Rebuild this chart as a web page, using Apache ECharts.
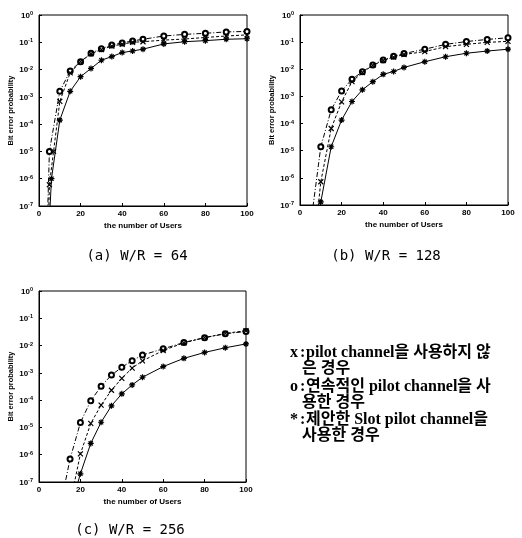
<!DOCTYPE html>
<html>
<head>
<meta charset="utf-8">
<script src="https://cdn.jsdelivr.net/npm/echarts@6/dist/echarts.min.js"></script>
<style>html,body{margin:0;padding:0;background:#fff;}#c{width:522px;height:538px;}</style>
</head>
<body>
<div id="c"></div>
<script>
// ---- data (users, bit error probability) ----
const xTicks = [0, 20, 40, 60, 80, 100];
const captions = ['(a) W/R = 64', '(b) W/R = 128', '(c) W/R = 256'];
const legendMarks = ['x', 'o', '*'];
const legendLines = [
  ['pilot channel을 사용하지 않', '은 경우'],
  ['연속적인 pilot channel을 사', '용한 경우'],
  ['제안한 Slot pilot channel을', '사용한 경우']
];

// (a) W/R = 64
const usersA_o = [4, 5, 10, 15, 20, 25, 30, 35, 40, 45, 50, 60, 70, 80, 90, 100];
const berA_o   = [2.5e-8, 1.0e-5, 1.6e-3, 8.9e-3, 1.95e-2, 4.0e-2, 5.8e-2, 7.9e-2, 9.5e-2, 0.112, 0.129, 0.17, 0.195, 0.214, 0.24, 0.25];
const usersA_x = [4.5, 5, 7, 10, 15, 20, 25, 30, 35, 40, 45, 50, 60, 70, 80, 90, 100];
const berA_x   = [2e-8, 6e-7, 1e-5, 6.8e-4, 7.6e-3, 1.95e-2, 3.8e-2, 5.4e-2, 7.2e-2, 8.5e-2, 0.1, 0.105, 0.12, 0.132, 0.15, 0.17, 0.186];
const usersA_s = [5, 6, 10, 15, 20, 25, 30, 35, 40, 45, 50, 60, 70, 80, 90, 100];
const berA_s   = [3e-8, 1e-6, 1.4e-4, 1.6e-3, 5.5e-3, 1.1e-2, 2.2e-2, 3.0e-2, 4.2e-2, 4.8e-2, 5.6e-2, 8.7e-2, 0.105, 0.115, 0.129, 0.135];

// (b) W/R = 128
const usersB_o = [5, 10, 15, 20, 25, 30, 35, 40, 45, 50, 60, 70, 80, 90, 100];
const berB_o   = [1.6e-8, 1.4e-5, 3.2e-4, 1.6e-3, 4.3e-3, 8.1e-3, 1.45e-2, 2.2e-2, 3.0e-2, 3.8e-2, 5.5e-2, 8.3e-2, 0.105, 0.126, 0.145];
const usersB_x = [8, 10, 15, 20, 25, 30, 35, 40, 45, 50, 60, 70, 80, 90, 100];
const berB_x   = [2.5e-8, 7.2e-7, 6.6e-5, 6.3e-4, 3.5e-3, 7.6e-3, 1.4e-2, 2.1e-2, 2.8e-2, 3.5e-2, 4.5e-2, 6.8e-2, 8.3e-2, 9.8e-2, 0.107];
const usersB_s = [9, 10, 15, 20, 25, 30, 35, 40, 45, 50, 60, 70, 80, 90, 100];
const berB_s   = [3.2e-8, 1.3e-7, 1.4e-5, 1.35e-4, 6.5e-4, 1.75e-3, 3.5e-3, 6.5e-3, 8.3e-3, 1.17e-2, 1.9e-2, 2.9e-2, 3.9e-2, 4.7e-2, 5.5e-2];

// (c) W/R = 256
const usersC_o = [10, 15, 20, 25, 30, 35, 40, 45, 50, 60, 70, 80, 90, 100];
const berC_o   = [1e-8, 6.9e-7, 1.5e-5, 9.5e-5, 3.2e-4, 8.3e-4, 1.6e-3, 2.8e-3, 4.5e-3, 7.6e-3, 1.3e-2, 1.95e-2, 2.7e-2, 3.3e-2];
const usersC_x = [15, 20, 25, 30, 35, 40, 45, 50, 60, 70, 80, 90, 100];
const berC_x   = [1.6e-8, 1.07e-6, 1.4e-5, 6.6e-5, 2.3e-4, 6.3e-4, 1.5e-3, 2.75e-3, 6.6e-3, 1.26e-2, 1.95e-2, 2.8e-2, 3.5e-2];
const usersC_s = [15, 20, 25, 30, 35, 40, 45, 50, 60, 70, 80, 90, 100];
const berC_s   = [1e-8, 2e-7, 2.6e-6, 1.55e-5, 6.2e-5, 1.7e-4, 3.6e-4, 6.9e-4, 1.7e-3, 3.4e-3, 5.6e-3, 8.3e-3, 1.15e-2];

// ---- chart ----
const chart = echarts.init(document.getElementById('c'), null, {renderer: 'canvas'});
const YMIN = 1e-7;
const grids = [
  {left: 39, top: 15, width: 208, height: 191},
  {left: 300, top: 15, width: 208, height: 190},
  {left: 39, top: 291, width: 207, height: 191}
];
const sets = [
  [[usersA_o, berA_o], [usersA_x, berA_x], [usersA_s, berA_s]],
  [[usersB_o, berB_o], [usersB_x, berB_x], [usersB_s, berB_s]],
  [[usersC_o, berC_o], [usersC_x, berC_x], [usersC_s, berC_s]]
];
const styles = [
  {symbol: 'emptyCircle', symbolSize: 5, type: [5, 2, 1, 2]},
  {symbol: 'path://M0,0L10,10M10,0L0,10', symbolSize: 5, type: [3, 2]},
  {symbol: 'path://M5,0L5,10M0,5L10,5M1.5,1.5L8.5,8.5M8.5,1.5L1.5,8.5', symbolSize: 6, type: 'solid'}
];
const axisFont = {fontFamily: 'Liberation Sans, Arial', fontWeight: 'bold', color: '#000'};
const xAxes = [], yAxes = [], series = [];
grids.forEach((g, i) => {
  xAxes.push({
    type: 'value', gridIndex: i, min: 0, max: 100, interval: 20,
    name: 'the number of Users', nameLocation: 'middle', nameGap: 16,
    nameTextStyle: Object.assign({fontSize: 8}, axisFont),
    axisLine: {lineStyle: {color: '#000', width: 1}},
    axisTick: {inside: true, length: 3, lineStyle: {color: '#000'}},
    axisLabel: Object.assign({fontSize: 8, margin: 4}, axisFont, {
      formatter: v => xTicks.includes(v) ? String(v) : ''
    }),
    splitLine: {show: false}
  });
  yAxes.push({
    type: 'log', logBase: 10, gridIndex: i, min: YMIN, max: 1, interval: 1,
    name: 'Bit error probability', nameLocation: 'middle', nameGap: 24, nameRotate: 90,
    nameTextStyle: Object.assign({fontSize: 7.5}, axisFont),
    axisLine: {lineStyle: {color: '#000', width: 1}},
    axisTick: {inside: true, length: 3, lineStyle: {color: '#000'}},
    axisLabel: {
      margin: 6,
      formatter: v => '{b|10}{s|' + Math.round(Math.log10(v)) + '}',
      rich: {
        b: Object.assign({fontSize: 8, lineHeight: 9, verticalAlign: 'bottom'}, axisFont),
        s: Object.assign({fontSize: 5.5, lineHeight: 9, verticalAlign: 'top'}, axisFont)
      }
    },
    splitLine: {show: false}
  });
  sets[i].forEach((pair, k) => {
    const st = styles[k];
    series.push({
      type: 'line', xAxisIndex: i, yAxisIndex: i, clip: true, silent: true,
      data: pair[0].map((u, j) => {
        const v = pair[1][j];
        return v < YMIN ? {value: [u, v], symbol: 'none'} : [u, v];
      }),
      symbol: st.symbol, symbolSize: st.symbolSize,
      showAllSymbol: true,
      lineStyle: {color: '#000', width: 1, type: st.type},
      itemStyle: {color: '#000', borderColor: '#000', borderWidth: 1.2},
      animation: false
    });
  });
});

const graphics = [];
const capPos = [[137, 256], [386, 256], [130, 530]];
captions.forEach((t, i) => {
  graphics.push({type: 'text', x: capPos[i][0], y: capPos[i][1], style: {
    text: t, fill: '#000', font: '14px "DejaVu Sans Mono"', textAlign: 'center', textVerticalAlign: 'middle'
  }});
});
const legendFont = 'bold 16px "Liberation Serif", "Noto Sans CJK KR"';
const lineY = [[353, 369], [387, 403], [420, 436]];
legendLines.forEach((lines, i) => {
  graphics.push({type: 'text', x: 290, y: lineY[i][0], style: {text: legendMarks[i], fill: '#000', font: legendFont, textVerticalAlign: 'middle'}});
  graphics.push({type: 'text', x: 300, y: lineY[i][0], style: {text: ':', fill: '#000', font: legendFont, textVerticalAlign: 'middle'}});
  graphics.push({type: 'text', x: 306, y: lineY[i][0], style: {text: lines[0], fill: '#000', font: legendFont, textVerticalAlign: 'middle'}});
  graphics.push({type: 'text', x: 302, y: lineY[i][1], style: {text: lines[1], fill: '#000', font: legendFont, textVerticalAlign: 'middle'}});
});

chart.setOption({
  animation: false,
  backgroundColor: '#fff',
  grid: grids.map(g => Object.assign({show: true, borderColor: '#000', borderWidth: 1, containLabel: false}, g)),
  xAxis: xAxes,
  yAxis: yAxes,
  series: series,
  graphic: graphics
});
</script>
</body>
</html>
